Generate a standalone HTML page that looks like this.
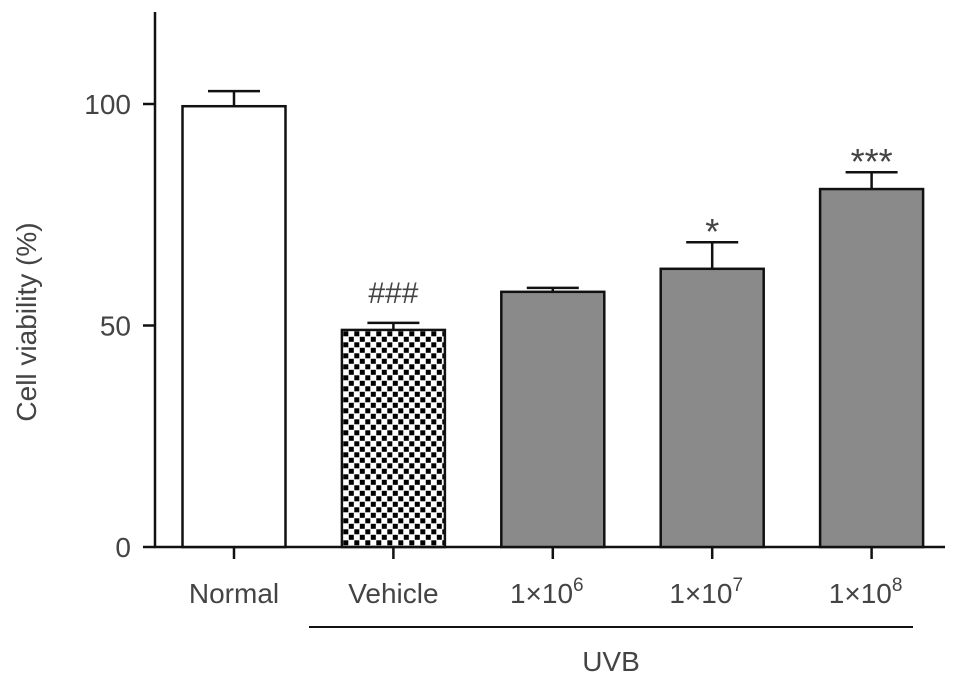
<!DOCTYPE html>
<html><head><meta charset="utf-8"><style>
body{margin:0;background:#fff;}
svg text{font-family:"Liberation Sans",sans-serif;fill:#444;}
</style></head><body>
<svg id="chart" width="969" height="685" viewBox="0 0 969 685">
<defs>
<pattern id="checker" width="11" height="11" patternUnits="userSpaceOnUse" x="343" y="331">
<rect width="11" height="11" fill="#fff"/>
<rect x="0.3" y="0.3" width="5" height="5" fill="#000"/>
<rect x="5.8" y="5.8" width="5" height="5" fill="#000"/>
</pattern>
</defs>
<g id="g"></g>
</svg>
<script>
const categories=["Normal","Vehicle","1×10^6","1×10^7","1×10^8"];
const values=[99.5,49,57.6,62.8,80.8];
const errors=[3.4,1.6,0.9,6,3.8];
const sigLabels=["","###","","*","***"];
const yTicks=[0,50,100];
const ns="http://www.w3.org/2000/svg";
const g=document.getElementById('g');
function y(v){return 547-v*4.43;}
function x(i){return 234+i*159.4;}
function el(t,a,txt){const e=document.createElementNS(ns,t);for(const k in a)e.setAttribute(k,a[k]);if(txt!=null)e.textContent=txt;g.appendChild(e);return e;}
let e;
e=el('line',{x1:155,y1:12,x2:155,y2:548,stroke:'#111','stroke-width':2.5});

e=el('line',{x1:154,y1:547,x2:945,y2:547,stroke:'#111','stroke-width':2.5});

yTicks.forEach(t=>{
 e=el('line',{x1:143,y1:y(t),x2:155,y2:y(t),stroke:'#111','stroke-width':2.5});
 
 e=el('text',{x:131,y:y(t)+10,'text-anchor':'end','font-size':28},String(t));
 
});
e=el('text',{x:0,y:0,'font-size':28,'text-anchor':'middle',transform:'translate(36,322) rotate(-90)'},'Cell viability (%)');

const w=103;
categories.forEach((c,i)=>{
 const cx=x(i),top=y(values[i]),et=y(values[i]+errors[i]);
 e=el('line',{x1:cx,y1:et,x2:cx,y2:top,stroke:'#111','stroke-width':2.5});
 
 e=el('line',{x1:cx-26,y1:et,x2:cx+26,y2:et,stroke:'#111','stroke-width':2.5});
 
 const fill=i==0?'#fff':(i==1?'url(#checker)':'#8a8a8a');
 e=el('rect',{x:cx-w/2,y:top,width:w,height:547-top,fill:fill,stroke:'#111','stroke-width':2.5});
 
 e=el('line',{x1:cx,y1:547,x2:cx,y2:559,stroke:'#111','stroke-width':2.5});
 
 const parts=c.split('^');
 e=el('text',{x:cx-(parts[1]?6:0),y:603,'text-anchor':'middle','font-size':28},parts[0]);
 if(parts[1]){const s=document.createElementNS(ns,'tspan');s.setAttribute('dy','-12');s.setAttribute('font-size','19');s.textContent=parts[1];e.appendChild(s);}
 
 if(sigLabels[i]){
  e=el('text',{x:cx,y:et-(sigLabels[i]=='###'?20:-2),'text-anchor':'middle','font-size':sigLabels[i]=='###'?30:36},sigLabels[i]);
  
 }
});
e=el('line',{x1:309,y1:627,x2:913,y2:627,stroke:'#111','stroke-width':2});

e=el('text',{x:611,y:671,'text-anchor':'middle','font-size':28},'UVB');

</script>
</body></html>
